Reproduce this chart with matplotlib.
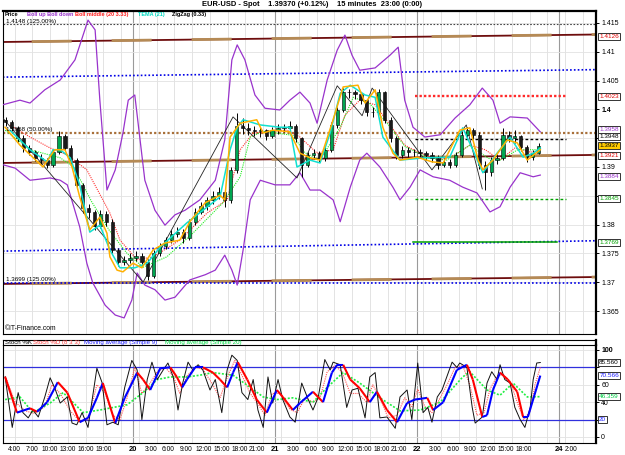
import numpy as np
import matplotlib
matplotlib.use("Agg")
import matplotlib.pyplot as plt
from matplotlib.collections import LineCollection

# ---------------- DATA (hours from 20 Jan 00:00, prices) ----------------
bar_hours = np.arange(-22, 69) + 0.5
first_open = 1.3982
closes = [1.3978, 1.3968, 1.3950, 1.3933, 1.3926, 1.3916, 1.3912, 1.3904, 1.3926, 1.3954,
          1.3933, 1.3912, 1.3869, 1.3829, 1.3822, 1.3798, 1.3818, 1.3805, 1.3756, 1.3735,
          1.3739, 1.3742, 1.3746, 1.3735, 1.3711, 1.3751, 1.3763, 1.3773, 1.3784, 1.3787,
          1.3777, 1.3805, 1.3822, 1.3832, 1.3843, 1.3850, 1.3857, 1.3843, 1.3895, 1.3971,
          1.3968, 1.3964, 1.3962, 1.3964, 1.3954, 1.3964, 1.3968, 1.3968, 1.3971, 1.3950,
          1.3904, 1.3921, 1.3924, 1.3916, 1.3930, 1.3973, 1.3999, 1.4030, 1.4030, 1.4027,
          1.4016, 1.3995, 1.3995, 1.4030, 1.3982, 1.3950, 1.3921, 1.3930, 1.3926, 1.3926,
          1.3924, 1.3921, 1.3916, 1.3904, 1.3909, 1.3904, 1.3921, 1.3956, 1.3964, 1.3956,
          1.3904, 1.3891, 1.3912, 1.3916, 1.3956, 1.3950, 1.3954, 1.3935, 1.3917, 1.3925,
          1.3937]
highs = [1.3987, 1.3982, 1.3972, 1.3955, 1.3938, 1.3930, 1.3922, 1.3916, 1.3932, 1.3962,
         1.3958, 1.3938, 1.3916, 1.3872, 1.3836, 1.3826, 1.3826, 1.3824, 1.3810, 1.3760,
         1.3746, 1.3750, 1.3754, 1.3750, 1.3740, 1.3756, 1.3768, 1.3778, 1.3790, 1.3796,
         1.3792, 1.3810, 1.3828, 1.3840, 1.3848, 1.3858, 1.3866, 1.3862, 1.3900, 1.3994,
         1.3985, 1.3976, 1.3972, 1.3970, 1.3966, 1.3970, 1.3975, 1.3974, 1.3980, 1.3974,
         1.3952, 1.3926, 1.3932, 1.3928, 1.3936, 1.3978, 1.4005, 1.4038, 1.4036, 1.4034,
         1.4030, 1.4018, 1.4004, 1.4036, 1.4032, 1.3986, 1.3954, 1.3936, 1.3934, 1.3932,
         1.3932, 1.3928, 1.3926, 1.3920, 1.3916, 1.3914, 1.3926, 1.3962, 1.3970, 1.3968,
         1.3960, 1.3910, 1.3918, 1.3922, 1.3968, 1.3962, 1.3964, 1.3956, 1.3938, 1.3930,
         1.3942]
lows = [1.3972, 1.3962, 1.3944, 1.3926, 1.3920, 1.3911, 1.3905, 1.3898, 1.3900, 1.3922,
        1.3928, 1.3906, 1.3862, 1.3820, 1.3812, 1.3790, 1.3794, 1.3798, 1.3750, 1.3728,
        1.3730, 1.3734, 1.3737, 1.3728, 1.3704, 1.3708, 1.3746, 1.3758, 1.3768, 1.3778,
        1.3768, 1.3774, 1.3800, 1.3818, 1.3826, 1.3836, 1.3845, 1.3830, 1.3838, 1.3890,
        1.3958, 1.3956, 1.3954, 1.3952, 1.3946, 1.3950, 1.3958, 1.3960, 1.3962, 1.3944,
        1.3883, 1.3900, 1.3914, 1.3908, 1.3910, 1.3926, 1.3968, 1.3996, 1.4020, 1.4018,
        1.4010, 1.3988, 1.3986, 1.3992, 1.3976, 1.3944, 1.3914, 1.3916, 1.3918, 1.3918,
        1.3916, 1.3912, 1.3908, 1.3896, 1.3900, 1.3898, 1.3900, 1.3918, 1.3950, 1.3948,
        1.3896, 1.3860, 1.3884, 1.3906, 1.3912, 1.3944, 1.3942, 1.3928, 1.3908, 1.3912,
        1.3922]

bb_up_h = [-22.0, -19.1, -17.4, -14.9, -12.3, -9.8, -7.6, -6.4, -5.6, -4.4, -3.0, -1.7, -0.8, 0.3,
           2.0, 3.7, 5.4, 7.1, 8.8, 11.3, 13.9, 15.5, 16.7, 17.6, 18.9, 20.6, 22.3, 24.8, 26.5,
           28.2, 29.9, 31.1, 32.8, 34.5, 35.8, 37.0, 38.3, 40.9, 43.4, 44.8, 45.9, 47.3, 49.3,
           51.9, 54.4, 56.9, 59.0, 60.8, 62.0, 63.7, 66.6, 68.8]
bb_up = [1.4008, 1.4016, 1.4011, 1.4034, 1.4051, 1.4086, 1.4155, 1.4138, 1.4016, 1.3860, 1.3895,
         1.3959, 1.4016, 1.4025, 1.3877, 1.3825, 1.3799, 1.3817, 1.3825, 1.3843, 1.3877, 1.3947,
         1.4086, 1.4112, 1.4086, 1.4025, 1.4002, 1.3999, 1.4016, 1.4030, 1.4011, 1.3976, 1.4051,
         1.4103, 1.4129, 1.4094, 1.4068, 1.4072, 1.4094, 1.4108, 1.4016, 1.3969, 1.3952, 1.3956,
         1.3985, 1.4008, 1.4037, 1.4016, 1.3976, 1.3987, 1.3985, 1.3961]
bb_dn_h = [-22.0, -19.9, -17.4, -14.0, -12.3, -11.1, -9.0, -7.8, -6.8, -4.7, -3.0, -1.5, -0.2, 0.7,
           2.0, 3.7, 5.4, 7.1, 9.6, 12.2, 13.9, 15.5, 16.7, 17.6, 18.6, 19.8, 21.5, 24.0, 26.5,
           28.2, 29.9, 31.6, 33.8, 35.0, 36.7, 38.3, 39.5, 41.7, 43.9, 45.1, 46.8, 48.5, 50.7,
           53.5, 55.7, 58.1, 60.3, 62.0, 63.7, 65.4, 67.6, 68.8]
bb_dn = [1.3904, 1.3898, 1.3877, 1.3881, 1.3877, 1.3869, 1.3796, 1.3733, 1.3699, 1.3660, 1.3643,
         1.3638, 1.3669, 1.3716, 1.3695, 1.3687, 1.3669, 1.3674, 1.3704, 1.3713, 1.3721, 1.3747,
         1.3721, 1.3695, 1.3756, 1.3843, 1.3877, 1.3869, 1.3869, 1.3890, 1.3860, 1.3860, 1.3843,
         1.3805, 1.3865, 1.3912, 1.3924, 1.3900, 1.3865, 1.3843, 1.3865, 1.3895, 1.3883, 1.3877,
         1.3865, 1.3855, 1.3822, 1.3831, 1.3865, 1.3890, 1.3883, 1.3886]
bb_mid_h = [-20.8, -17.4, -14.0, -11.1, -7.8, -3.9, -2.2, 0.7, 3.4, 7.9, 12.5, 15.9, 18.1, 20.3,
            26.0, 28.2, 31.1, 33.8, 35.8, 38.3, 40.9, 43.4, 45.9, 48.5, 51.9, 54.4, 56.9, 59.5,
            62.0, 64.5, 67.1, 68.8]
bb_mid = [1.3973, 1.3952, 1.3933, 1.3921, 1.3895, 1.3820, 1.3773, 1.3739, 1.3744, 1.3773, 1.3820,
          1.3843, 1.3930, 1.3959, 1.3964, 1.3952, 1.3924, 1.3930, 1.3990, 1.4016, 1.4008, 1.3973,
          1.3938, 1.3924, 1.3912, 1.3921, 1.3938, 1.3930, 1.3912, 1.3933, 1.3926, 1.3926]
fast_h = [-21.6, -19.1, -15.2, -13.2, -11.5, -10.3, -9.0, -7.3, -5.6, -4.4, -3.9, -2.7, -1.7, 0.0,
          1.5, 3.4, 5.4, 7.9, 9.6, 12.2, 14.7, 15.5, 16.4, 18.1, 20.9, 22.0, 23.6, 26.5, 28.2,
          29.9, 31.6, 33.8, 35.5, 38.0, 39.2, 40.9, 42.2, 43.9, 45.1, 48.0, 50.5, 52.4, 55.2,
          56.9, 58.3, 59.1, 60.8, 63.2, 64.9, 66.6, 68.8]
fast_ma = [1.3969, 1.3938, 1.3900, 1.3930, 1.3930, 1.3900, 1.3848, 1.3791, 1.3813, 1.3785, 1.3744,
           1.3721, 1.3718, 1.3733, 1.3725, 1.3756, 1.3768, 1.3773, 1.3805, 1.3838, 1.3851, 1.3843,
           1.3952, 1.3976, 1.3982, 1.3959, 1.3964, 1.3961, 1.3924, 1.3916, 1.3912, 1.3982, 1.4039,
           1.4042, 1.4011, 1.4034, 1.3969, 1.3924, 1.3912, 1.3917, 1.3909, 1.3907, 1.3964, 1.3968,
           1.3912, 1.3895, 1.3912, 1.3947, 1.3942, 1.3912, 1.3930]
tema_h = [-20.8, -17.4, -14.5, -13.5, -12.3, -10.6, -9.0, -7.3, -5.6, -3.9, -2.2, 0.3, 2.4, 4.6,
          9.1, 14.7, 16.4, 17.6, 18.6, 21.5, 24.8, 26.5, 27.7, 29.9, 31.6, 33.3, 35.0, 36.7,
          39.2, 40.9, 42.2, 45.1, 49.3, 53.5, 55.7, 57.4, 59.1, 61.5, 63.7, 65.9, 67.6, 68.8]
tema = [1.3964, 1.3930, 1.3909, 1.3930, 1.3930, 1.3916, 1.3869, 1.3787, 1.3799, 1.3756, 1.3725,
        1.3725, 1.3733, 1.3761, 1.3803, 1.3848, 1.3930, 1.3969, 1.3982, 1.3973, 1.3969, 1.3969,
        1.3900, 1.3912, 1.3907, 1.3959, 1.4028, 1.4042, 1.4025, 1.4021, 1.3952, 1.3912, 1.3916,
        1.3917, 1.3968, 1.3930, 1.3890, 1.3924, 1.3952, 1.3917, 1.3924, 1.3933]
slow_h = [-21.6, -17.4, -12.3, -10.0, -7.0, -4.0, -1.0, 1.7, 5.7, 10.1, 15.2, 18.1, 19.8, 22.0,
          27.0, 29.0, 31.6, 35.0, 37.2, 40.0, 43.0, 46.0, 50.0, 53.0, 56.9, 60.0, 62.0, 65.0, 68.8]
slow_ma = [1.3964, 1.3930, 1.3916, 1.3900, 1.3840, 1.3790, 1.3750, 1.3726, 1.3744, 1.3785, 1.3838,
           1.3883, 1.3952, 1.3962, 1.3955, 1.3925, 1.3912, 1.3969, 1.4021, 1.4010, 1.3975, 1.3935,
           1.3915, 1.3912, 1.3938, 1.3915, 1.3912, 1.3930, 1.3930]
zz_h = [-22.0, 1.7, 16.9, 27.7, 34.5, 38.7, 40.4, 50.5, 56.3, 59.0]
zz = [1.3985, 1.3700, 1.3987, 1.3881, 1.4041, 1.3989, 1.4037, 1.3895, 1.3973, 1.3862]

# trend / channel lines (start hour, end hour, start price, end price)
channel_lines = [(-22.0, 78.2, 1.4117, 1.4130), (-22.0, 78.2, 1.3907, 1.3921), (-22.0, 78.2, 1.3697, 1.3709)]
blue_lines = [(-22.0, 78.2, 1.4056, 1.4069), (-22.0, 78.2, 1.3754, 1.3772), (-22.0, 78.2, 1.3699, 1.3699)]
fib_top, fib_mid = 1.4148, 1.3959
lvl_red, lvl_black, lvl_green_d, lvl_green_s = 1.4023, 1.3948, 1.3845, 1.3769
lvl_start, lvl_end = 47.6, 73.1

price_boxes = [("1.4126", 1.4126, "#e00000", "white", 0),
               ("1.4023", 1.4023, "#e00000", "white", 0),
               ("1.3958", 1.3958, "#9933cc", "white", 2.6),
               ("1.3948", 1.3948, "black", "white", 1.8),
               ("1.3937", 1.3937, "black", "#ffcc00", 0.3),
               ("1.3921", 1.3921, "#e00000", "white", -0.6),
               ("1.3884", 1.3884, "#9933cc", "white", 0),
               ("1.3845", 1.3845, "#00a000", "white", 0),
               ("1.3769", 1.3769, "#00a000", "white", 0)]
price_ticks = [1.365, 1.37, 1.375, 1.38, 1.385, 1.39, 1.395, 1.4, 1.405, 1.41, 1.415]
price_tick_labels = ["1.365", "1.37", "1.375", "1.38", "", "1.39", "", "1.4", "1.405", "1.41", "1.415"]

# stochastic panel
k_h = [-21.6, -20.4, -19.4, -18.6, -17.7, -16.9, -16.0, -14.9, -14.0, -13.2, -12.3, -11.1, -10.3, -9.5,
       -8.6, -7.6, -6.1, -5.2, -4.4, -3.4, -2.5, -1.4, -0.2, 0.7, 1.5, 2.4, 3.2, 4.1, 5.1, 5.9, 6.8,
       7.6, 8.4, 9.3, 10.1, 11.0, 11.8, 13.0, 13.9, 15.0, 15.9, 16.7, 17.6, 18.4, 19.4, 20.3, 21.1,
       22.0, 22.8, 23.6, 24.5, 25.3, 26.5, 27.4, 28.5, 29.6, 30.4, 31.3, 32.4, 33.3, 33.8, 35.0,
       36.1, 37.0, 38.0, 39.2, 40.0, 40.9, 41.7, 42.9, 44.3, 45.1, 46.3, 47.1, 48.1, 49.0, 49.8,
       50.5, 51.4, 52.2, 53.0, 53.9, 54.7, 55.2, 56.4, 57.3, 57.8, 59.0, 59.8, 60.6, 61.5, 62.0,
       62.8, 63.7, 64.5, 65.4, 66.2, 67.1, 67.6, 68.2, 68.8]
stoch_k = [69, 11, 51, 28, 22, 31, 23, 46, 68, 56, 39, 46, 16, 14, 28, 11, 79, 62, 14, 17, 14, 57,
           88, 77, 20, 66, 86, 66, 77, 85, 69, 31, 62, 86, 77, 83, 77, 54, 66, 28, 77, 94, 88, 51,
           43, 66, 31, 11, 69, 39, 66, 43, 23, 17, 62, 43, 31, 46, 89, 77, 86, 83, 34, 54, 56, 22,
           69, 74, 22, 23, 10, 46, 54, 20, 85, 28, 34, 17, 46, 54, 69, 86, 80, 85, 80, 34, 16, 23,
           62, 75, 66, 83, 66, 62, 34, 20, 11, 34, 66, 85, 85.56]
d_h = [-21.6, -19.9, -18.2, -16.6, -14.9, -13.7, -12.3, -10.6, -9.0, -7.6, -6.1, -4.7, -3.4, -2.2,
       -1.0, 0.3, 1.5, 2.9, 4.1, 5.4, 6.8, 7.9, 9.1, 10.5, 11.8, 13.3, 14.7, 16.0, 17.2, 18.6, 19.8,
       20.9, 22.3, 23.5, 24.8, 26.5, 27.7, 29.1, 30.4, 31.6, 32.8, 34.1, 35.3, 36.7, 38.0, 39.5,
       40.5, 41.7, 43.1, 44.6, 45.9, 47.1, 48.1, 49.3, 50.5, 51.9, 53.2, 54.4, 55.7, 56.9, 58.1,
       59.3, 60.3, 61.5, 62.5, 63.7, 64.9, 66.0, 67.1, 67.9, 68.8]
stoch_d = [70, 40, 30, 27, 35, 60, 50, 30, 18, 20, 60, 50, 25, 20, 45, 80, 50, 62, 75, 80, 70, 50,
           70, 80, 78, 62, 45, 70, 88, 68, 50, 40, 25, 50, 50, 32, 28, 45, 40, 45, 75, 82, 75, 50,
           50, 40, 60, 45, 22, 25, 45, 35, 55, 35, 28, 45, 62, 80, 82, 60, 25, 28, 55, 70, 72, 64,
           40, 20, 30, 60, 80]
ma9_h = [-21.6, -19.6, -17.4, -16.2, -14.5, -12.7, -11.1, -9.0, -7.6, -6.1, -5.1, -3.0, -1.4, 0.7,
         1.7, 2.9, 4.6, 6.3, 7.4, 8.3, 9.1, 10.5, 11.8, 13.5, 14.7, 15.9, 16.9, 17.7, 19.3, 20.9,
         22.6, 24.3, 25.3, 27.0, 28.2, 30.4, 32.1, 33.6, 34.5, 35.5, 36.7, 38.3, 40.0, 41.2, 42.9,
         44.6, 46.3, 47.6, 49.7, 50.7, 52.4, 54.7, 56.4, 57.4, 59.0, 59.8, 60.8, 62.0, 63.3, 64.9,
         65.9, 66.7, 68.8]
ma9 = [69, 28, 33, 29, 40, 63, 51, 17, 22, 45, 62, 16, 45, 74, 66, 54, 79, 80, 69, 57, 66, 80, 80,
       74, 66, 57, 74, 86, 66, 43, 28, 54, 46, 31, 39, 52, 40, 74, 83, 83, 66, 56, 40, 52, 31, 17,
       39, 43, 45, 31, 40, 77, 83, 66, 23, 25, 54, 74, 66, 52, 23, 23, 70.566]
ma20_h = [-21.6, -19.1, -16.9, -14.0, -11.8, -8.4, -5.6, -1.0, 1.7, 4.1, 6.3, 9.1, 11.3, 13.5, 16.9,
          19.8, 22.0, 24.3, 27.0, 30.4, 32.8, 35.5, 38.3, 41.7, 45.1, 48.5, 51.9, 55.7, 56.9, 59.8,
          62.0, 64.2, 66.6, 68.8]
ma20 = [43, 46, 28, 39, 51, 28, 31, 37, 51, 66, 69, 69, 71, 74, 71, 57, 46, 43, 45, 40, 57, 74, 62,
        45, 30, 31, 40, 69, 75, 54, 48, 62, 46, 46.359]
stoch_boxes = [("85.560", 85.56, "black"), ("70.566", 70.566, "#2020ff"),
               ("46.359", 46.359, "#00cc44"), ("20", 20, "#2020ff")]
stoch_ticks = [0, 20, 40, 60, 80, 100]
stoch_tick_labels = ["0", "", "40", "60", "", "100"]

tick_hours = [-20, -17, -14, -11, -8, -5, 0, 3, 6, 9, 12, 15, 18, 21, 24, 27, 30, 33, 36, 39, 42, 45,
              48, 51, 54, 57, 60, 63, 66, 72, 74]
tick_labels = ["4:00", "7:00", "10:00", "13:00", "16:00", "19:00", "20", "3:00", "6:00", "9:00",
               "12:00", "15:00", "18:00", "21:00", "21", "3:00", "6:00", "9:00", "12:00", "15:00",
               "18:00", "21:00", "22", "3:00", "6:00", "9:00", "12:00", "15:00", "18:00", "24", "2:00"]
day_hours = [0, 24, 48, 72]

# ---------------- FIGURE ----------------
W, H = 625.0, 455.0
plt.rcParams["font.family"] = ["Liberation Sans", "DejaVu Sans"]
fig = plt.figure(figsize=(6.25, 4.55), dpi=100)
fig.patch.set_facecolor("white")


def fx(px):
    return px / W


def fy(py):
    return 1 - py / H


XMIN, XMAX = -21.96, 78.21
ax = fig.add_axes([fx(3), fy(334), fx(596) - fx(3), fy(11) - fy(334)])
ax2 = fig.add_axes([fx(3), fy(443), fx(596) - fx(3), fy(345) - fy(443)])

for a in (ax, ax2):
    a.set_xlim(XMIN, XMAX)
    for s in a.spines.values():
        s.set_color("black")
        s.set_linewidth(0.8)
    a.spines["right"].set_linewidth(1.6)
    grid_h = [g for g in range(-20, 79, 3) if g not in day_hours]
    for g in grid_h:
        a.axvline(g, color="#dedede", lw=0.6, zorder=0)
    for d in day_hours:
        a.axvline(d, color="#9a9a9a", lw=0.8, zorder=0)

ax.set_ylim(1.36101, 1.41708)
ax2.set_ylim(-6.9, 105.7)
ax.spines["top"].set_linewidth(1.6)

for t in price_ticks:
    ax.axhline(t, color="#e2e2e2", lw=0.6, zorder=0)
for t in stoch_ticks:
    ax2.axhline(t, color="#e2e2e2", lw=0.6, zorder=0)

# price axis on the right
ax.yaxis.tick_right()
ax.set_yticks(price_ticks)
ax.set_yticklabels(price_tick_labels)
ax.tick_params(axis="y", labelsize=5.0, length=2.5, width=0.7, pad=1.2, colors="black")
for lbl, t in zip(ax.get_yticklabels(), price_tick_labels):
    if t == "1.4":
        lbl.set_fontweight("bold")
ax.set_xticks([])

# channel lines (two-tone)
for (h0, h1, p0, p1) in channel_lines:
    ax.plot([h0, h1], [p0, p1], color="#6e0d0d", lw=1.3, zorder=2, solid_capstyle="butt")
    ax.plot([h0, h1], [p0, p1], color="#b58a55", lw=2.0, zorder=2,
            linestyle=(18.4, (14.4, 14.4)), solid_capstyle="butt")
for (h0, h1, p0, p1) in blue_lines:
    ax.plot([h0, h1], [p0, p1], color="#0000e6", lw=1.2, linestyle=(0, (1, 1.3)), zorder=2)

ax.axhline(fib_top, color="#444444", lw=0.8, linestyle=(0, (1.5, 1.5)), zorder=2)
ax.axhline(fib_mid, color="#a8703a", lw=1.6, linestyle=(0, (1, 1)), zorder=2)
ax.plot([lvl_start, lvl_end], [lvl_red] * 2, color="#ff2a2a", lw=1.7, linestyle=(0, (1, 0.9)), zorder=2)
ax.plot([lvl_start, lvl_end], [lvl_black] * 2, color="black", lw=1.0, linestyle=(0, (2, 1.6)), zorder=2)
ax.plot([lvl_start, lvl_end], [lvl_green_d] * 2, color="#00a000", lw=1.0, linestyle=(0, (2, 1.6)), zorder=2)
ax.plot([lvl_start - 0.3, lvl_end - 1.5], [lvl_green_s] * 2, color="#00a000", lw=1.1, zorder=2)

# bollinger & averages
ax.plot(bb_up_h, bb_up, color="#9933cc", lw=0.9, zorder=3)
ax.plot(bb_dn_h, bb_dn, color="#9933cc", lw=0.9, zorder=3)
ax.plot(bb_mid_h, bb_mid, color="#ff3030", lw=0.8, linestyle=(0, (1, 1)), zorder=3)
ax.plot(slow_h, slow_ma, color="#22ee22", lw=0.8, linestyle=(0, (1, 1)), zorder=3)
ax.plot(zz_h, zz, color="#222222", lw=0.6, zorder=3)

# candles
opens = np.r_[first_open, closes[:-1]]
closes_a = np.array(closes)
highs_a = np.array(highs)
lows_a = np.array(lows)
ax.vlines(bar_hours, lows_a, highs_a, color="black", lw=0.7, zorder=4)
body_lo = np.minimum(opens, closes_a)
body_hi = np.maximum(opens, closes_a)
heights = np.maximum(body_hi - body_lo, 0.00008)
up = closes_a >= opens
ax.bar(bar_hours[up], heights[up], bottom=body_lo[up], width=0.55, color="#00a651",
       edgecolor="black", linewidth=0.4, zorder=5)
ax.bar(bar_hours[~up], heights[~up], bottom=body_lo[~up], width=0.55, color="#1a1a1a",
       edgecolor="black", linewidth=0.4, zorder=5)

ax.plot(tema_h, tema, color="#10e0d0", lw=1.1, zorder=6)
ax.plot(fast_h, fast_ma, color="#ffb000", lw=1.1, zorder=6)

# labels inside price panel
ax.text(-21.4, fib_top + 0.0001, "1.4148 (125.00%)", fontsize=4.5, color="black", va="bottom", zorder=7)
ax.text(-21.4, fib_mid + 0.0002, "1.3958 (50.00%)", fontsize=4.5, color="black", va="bottom", zorder=7)
ax.text(-21.4, 1.3699 + 0.0002, "1.3699 (125.00%)", fontsize=4.5, color="black", va="bottom", zorder=7)
ax.text(-21.7, 1.3614, "\u00a9IT-Finance.com", fontsize=4.9, color="black", va="bottom", zorder=7)

# value boxes on right of price axis
for txt, val, col, fc, off in price_boxes:
    ax.annotate(txt, xy=(1.0, val), xycoords=("axes fraction", "data"),
                xytext=(2.3, off), textcoords="offset points", fontsize=4.6, color=col,
                va="center", ha="left", annotation_clip=False, zorder=10,
                bbox=dict(boxstyle="square,pad=0.16", fc=fc, ec="#333333", lw=0.7))

# legend row of price panel
legend_items = [("Price", "black", 5), ("Boll up Boll down", "#9933cc", 27),
                ("Boll middle (20 3.33)", "#ff2020", 75), ("TEMA (21)", "#00d8c0", 138),
                ("ZigZag (0.33)", "black", 172)]
for txt, col, px in legend_items:
    fig.text(fx(px), fy(14.3), txt, fontsize=4.0, color=col, fontweight="bold", va="center")

# title
fig.text(fx(312), fy(5), "EUR-USD - Spot    1.39370 (+0.12%)    15 minutes  23:00 (0:00)",
         fontsize=5.4, fontweight="bold", ha="center", va="center")

# ---------------- stochastic ----------------
ax2.axhline(80, color="#3030dd", lw=0.9, zorder=2)
ax2.axhline(20, color="#3030dd", lw=0.9, zorder=2)
ax2.plot(d_h, stoch_d, color="#ff5050", lw=0.8, linestyle=(0, (1, 1)), zorder=3)
ax2.plot(ma20_h, ma20, color="#22ee44", lw=1.2, linestyle=(0, (1.2, 1)), zorder=3)
ax2.plot(k_h, stoch_k, color="#111111", lw=0.7, zorder=4)
pts = np.column_stack([ma9_h, ma9])
segs = np.stack([pts[:-1], pts[1:]], axis=1)
seg_cols = ["#0000ff" if b >= a else "#ff0000" for a, b in zip(ma9[:-1], ma9[1:])]
ax2.add_collection(LineCollection(segs, colors=seg_cols, linewidths=1.5, zorder=5))

ax2.yaxis.tick_right()
ax2.set_yticks(stoch_ticks)
ax2.set_yticklabels(stoch_tick_labels)
ax2.tick_params(axis="y", labelsize=5.0, length=2.5, width=0.7, pad=1.2)
for lbl, t in zip(ax2.get_yticklabels(), stoch_tick_labels):
    if t == "100":
        lbl.set_fontweight("bold")
ax2.set_xticks(tick_hours)
ax2.set_xticklabels(tick_labels)
ax2.tick_params(axis="x", labelsize=4.8, length=0, pad=2.5)
for lbl, t in zip(ax2.get_xticklabels(), tick_labels):
    if ":" not in t:
        lbl.set_fontweight("bold")
        lbl.set_fontsize(5.4)

for txt, val, col in stoch_boxes:
    ax2.annotate(txt, xy=(1.0, val), xycoords=("axes fraction", "data"),
                 xytext=(2.3, 0), textcoords="offset points", fontsize=4.6, color=col,
                 va="center", ha="left", annotation_clip=False, zorder=10,
                 bbox=dict(boxstyle="square,pad=0.16", fc="white", ec="#333333", lw=0.7))

# stoch legend strip
fig.add_artist(plt.Line2D([fx(3), fx(596)], [fy(339.5), fy(339.5)], color="black", lw=0.8))
fig.add_artist(plt.Line2D([fx(3), fx(3)], [fy(339.5), fy(345)], color="black", lw=0.8))
fig.add_artist(plt.Line2D([fx(596), fx(596)], [fy(339.5), fy(345)], color="black", lw=1.6))
stoch_legend = [("Stoch %K", "black", 5), ("Stoch %D (8 3 3)", "#ff4040", 33),
                ("Moving average (Simple 9)", "#2020ff", 84), ("Moving average (Simple 20)", "#00dd44", 165)]
for txt, col, px in stoch_legend:
    fig.text(fx(px), fy(342.3), txt, fontsize=4.4, color=col, va="center")

fig.savefig("out.png", dpi=100)
